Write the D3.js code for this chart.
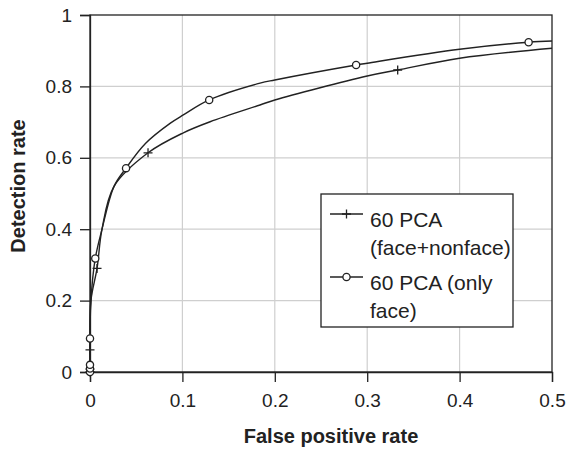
<!DOCTYPE html>
<html>
<head>
<meta charset="utf-8">
<script src="https://cdn.jsdelivr.net/npm/d3@7"></script>
<style>
  body { margin: 0; background: #fff; }
  text { font-family: "Liberation Sans", Arial, sans-serif; fill: #222; }
</style>
</head>
<body>
<div id="chart"></div>
<script>
// values (false positive rate, detection rate)

// 60 PCA (face+nonface) - the curve and the points that carry a "+" marker
var fnCurveFpr = [0, 0, 0.001, 0.0076, 0.013, 0.026, 0.0628, 0.101, 0.130, 0.184, 0.2, 0.3, 0.333, 0.4, 0.5];
var fnCurveTpr = [0, 0.062, 0.2, 0.29, 0.40, 0.52, 0.614, 0.670, 0.701, 0.748, 0.762, 0.829, 0.846, 0.879, 0.907];
var fnMarkFpr = [0, 0, 0, 0.0076, 0.0628, 0.333];
var fnMarkTpr = [0, 0.008, 0.062, 0.29, 0.614, 0.846];

// 60 PCA (only face) - the curve and the points that carry a circle marker
var ofCurveFpr = [0, 0, 0.001, 0.0057, 0.013, 0.026, 0.039, 0.06, 0.087, 0.101, 0.129, 0.184, 0.2, 0.288, 0.3, 0.4, 0.4747, 0.5];
var ofCurveTpr = [0, 0.094, 0.2, 0.318, 0.40, 0.52, 0.571, 0.64, 0.697, 0.72, 0.762, 0.809, 0.818, 0.860, 0.865, 0.904, 0.9236, 0.927];
var ofMarkFpr = [0, 0, 0, 0, 0.0057, 0.039, 0.129, 0.288, 0.4747];
var ofMarkTpr = [0, 0.01, 0.02, 0.094, 0.318, 0.571, 0.762, 0.860, 0.9236];

var xTicks = [0, 0.1, 0.2, 0.3, 0.4, 0.5];
var yTicks = [0, 0.2, 0.4, 0.6, 0.8, 1];
var legendLabels = [["60 PCA", "(face+nonface)"], ["60 PCA (only", "face)"]];

var W = 567, H = 451;
var margin = {top: 15, right: 15, bottom: 79, left: 90};
var width = W - margin.left - margin.right,
    height = H - margin.top - margin.bottom;

var svg = d3.select('#chart').append('svg')
  .attr('width', W)
  .attr('height', H);

var g = svg.append('g')
  .attr('transform', 'translate(' + margin.left + ',' + margin.top + ')');

var x = d3.scaleLinear().domain([0, 0.5]).range([0, width]);
var y = d3.scaleLinear().domain([0, 1]).range([height, 0]);

// grid
g.selectAll('.vgrid')
  .data(xTicks.slice(1, -1))
  .enter().append('line')
  .attr('x1', function(d) { return x(d); })
  .attr('x2', function(d) { return x(d); })
  .attr('y1', 0).attr('y2', height)
  .attr('stroke', '#cfcfcf').attr('stroke-width', 1.2);

g.selectAll('.hgrid')
  .data(yTicks.slice(1, -1))
  .enter().append('line')
  .attr('y1', function(d) { return y(d); })
  .attr('y2', function(d) { return y(d); })
  .attr('x1', 0).attr('x2', width)
  .attr('stroke', '#cfcfcf').attr('stroke-width', 1.2);

// frame
g.append('rect')
  .attr('width', width).attr('height', height)
  .attr('fill', 'none').attr('stroke', '#222').attr('stroke-width', 1.3);

// axes
var xAxis = g.append('g')
  .attr('transform', 'translate(0,' + height + ')')
  .call(d3.axisBottom(x).tickValues(xTicks).tickFormat(d3.format('')).tickSize(10).tickPadding(12));

var yAxis = g.append('g')
  .call(d3.axisLeft(y).tickValues(yTicks).tickFormat(d3.format('')).tickSize(10).tickPadding(8));

[xAxis, yAxis].forEach(function(a) {
  a.select('.domain').attr('stroke', '#222').attr('stroke-width', 1.3);
  a.selectAll('.tick line').attr('stroke', '#222').attr('stroke-width', 1.3);
  a.selectAll('.tick text')
    .attr('fill', '#222')
    .style('font-size', '19px')
    .style('font-family', '"Liberation Sans", Arial, sans-serif');
});

// axis titles
svg.append('text')
  .attr('x', 331).attr('y', 443)
  .attr('text-anchor', 'middle')
  .style('font-size', '20px').style('font-weight', 'bold')
  .text('False positive rate');

svg.append('text')
  .attr('transform', 'translate(25,186) rotate(-90)')
  .attr('text-anchor', 'middle')
  .style('font-size', '20px').style('font-weight', 'bold')
  .text('Detection rate');

// curves
function pts(xs, ys) {
  return xs.map(function(v, i) { return [v, ys[i]]; });
}

var line = d3.line()
  .x(function(d) { return x(d[0]); })
  .y(function(d) { return y(d[1]); })
  .curve(d3.curveCatmullRom.alpha(0.5));

[pts(fnCurveFpr, fnCurveTpr), pts(ofCurveFpr, ofCurveTpr)].forEach(function(p) {
  g.append('path')
    .datum(p)
    .attr('d', line)
    .attr('fill', 'none')
    .attr('stroke', '#222')
    .attr('stroke-width', 1.4);
});

function plus(sel, cx, cy) {
  sel.append('path')
    .attr('d', 'M' + (cx - 4.5) + ',' + cy + 'H' + (cx + 4.5) + 'M' + cx + ',' + (cy - 4.5) + 'V' + (cy + 4.5))
    .attr('stroke', '#222').attr('stroke-width', 1.3);
}
function circ(sel, cx, cy) {
  sel.append('circle')
    .attr('cx', cx).attr('cy', cy).attr('r', 3.6)
    .attr('fill', '#fff').attr('stroke', '#222').attr('stroke-width', 1.3);
}

pts(fnMarkFpr, fnMarkTpr).forEach(function(d) { plus(g, x(d[0]), y(d[1])); });
pts(ofMarkFpr, ofMarkTpr).forEach(function(d) { circ(g, x(d[0]), y(d[1])); });

// legend
var lg = svg.append('g').attr('transform', 'translate(321,194)');
lg.append('rect')
  .attr('width', 192).attr('height', 133)
  .attr('fill', '#fff').attr('stroke', '#222').attr('stroke-width', 1.3);

var rowY = [20, 83];
legendLabels.forEach(function(lab, i) {
  lg.append('line')
    .attr('x1', 9).attr('x2', 42)
    .attr('y1', rowY[i]).attr('y2', rowY[i])
    .attr('stroke', '#222').attr('stroke-width', 1.4);
  if (i === 0) plus(lg, 25.5, rowY[i]); else circ(lg, 25.5, rowY[i]);
  lab.forEach(function(t, j) {
    lg.append('text')
      .attr('x', 49)
      .attr('y', rowY[i] + 13 + j * 28)
      .style('font-size', '21px')
      .text(t);
  });
});
</script>
</body>
</html>
